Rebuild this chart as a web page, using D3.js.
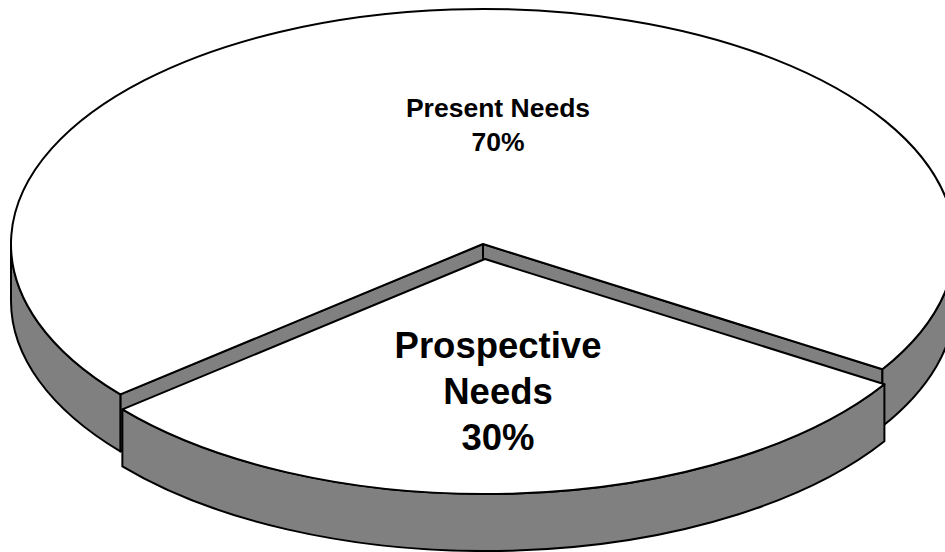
<!DOCTYPE html>
<html>
<head>
<meta charset="utf-8">
<script src="https://cdn.jsdelivr.net/npm/d3@7"></script>
<style>
  html, body { margin: 0; padding: 0; background: #fff; }
  svg { display: block; }
  text { font-family: "Liberation Sans", Arial, sans-serif; font-weight: bold; fill: #000; }
</style>
</head>
<body>
<svg id="chart" width="945" height="552"></svg>
<script>
// Two-slice 3D pie: needs split
const categories = ["Present Needs", "Prospective Needs"];
const values = [70, 30];
const labelLines = [["Present Needs"], ["Prospective", "Needs"]];
const exploded = [false, true];

const W = 945, H = 552;
const cx = 483, cy = 244;      // centre of the top face
const rx = 472, ry = 235;      // top-face ellipse radii
const depth = 57;              // extrusion height
const explodeFrac = 0.064;     // pull-out of the exploded slice
const wallColor = "#808080";
const strokeW = 2;

const svg = d3.select("#chart");

const deg = Math.PI / 180;
const start = 230.2 * deg;     // first slice starts lower-left
const pie = d3.pie().sort(null).value(d => d.value)
  .startAngle(start).endAngle(start + 2 * Math.PI);

const data = categories.map((c, i) => ({ name: c, value: values[i], lines: labelLines[i], exploded: exploded[i] }));
const total = d3.sum(values);
const arcs = pie(data);

// d3 pie angles (0 at 12 o'clock) -> screen angle (0 at 3 o'clock, clockwise)
const toScreen = a => a - Math.PI / 2;

function pt(o, t, z) {
  return [o[0] + rx * Math.cos(t), o[1] + ry * Math.sin(t) + z];
}

function topPath(o, t0, t1) {
  const p0 = pt(o, t0, 0), p1 = pt(o, t1, 0);
  const large = (t1 - t0) > Math.PI ? 1 : 0;
  const p = d3.path();
  p.moveTo(o[0], o[1]);
  p.lineTo(p0[0], p0[1]);
  return p.toString() + `A${rx},${ry} 0 ${large} 1 ${p1[0]},${p1[1]}Z`;
}

function wallPath(o, t0, t1) {
  const a = pt(o, t0, 0), b = pt(o, t1, 0), c = pt(o, t1, depth), d = pt(o, t0, depth);
  const large = (t1 - t0) > Math.PI ? 1 : 0;
  return `M${a[0]},${a[1]}A${rx},${ry} 0 ${large} 1 ${b[0]},${b[1]}` +
         `L${c[0]},${c[1]}A${rx},${ry} 0 ${large} 0 ${d[0]},${d[1]}Z`;
}

function radialPath(o, t) {
  const e = pt(o, t, 0), f = pt(o, t, depth);
  const p = d3.path();
  p.moveTo(o[0], o[1]);
  p.lineTo(e[0], e[1]);
  p.lineTo(f[0], f[1]);
  p.lineTo(o[0], o[1] + depth);
  p.closePath();
  return p.toString();
}

// front-facing portions of an angle range (screen angles in [0, PI] mod 2PI)
function frontRanges(t0, t1) {
  const out = [];
  for (let k = -1; k <= 2; k++) {
    const lo = Math.max(t0, k * 2 * Math.PI), hi = Math.min(t1, k * 2 * Math.PI + Math.PI);
    if (hi > lo + 1e-6) out.push([lo, hi]);
  }
  return out;
}

const slices = arcs.map(a => {
  const t0 = toScreen(a.startAngle), t1 = toScreen(a.endAngle);
  const mid = (t0 + t1) / 2;
  const o = a.data.exploded
    ? [cx + rx * Math.cos(mid) * explodeFrac, cy + ry * Math.sin(mid) * explodeFrac]
    : [cx, cy];
  return { arc: a, t0, t1, mid, o };
});

// back slice first, exploded front slice last
const order = slices.slice().sort((a, b) => (a.arc.data.exploded ? 1 : 0) - (b.arc.data.exploded ? 1 : 0));

const g = svg.append("g")
  .attr("stroke", "#000")
  .attr("stroke-width", strokeW)
  .attr("stroke-linejoin", "round");

order.forEach(s => {
  const sg = g.append("g");
  if (!s.arc.data.exploded) {
    // cut faces exposed toward the pulled-out slice
    [s.t0, s.t1].forEach(t => {
      sg.append("path").attr("d", radialPath(s.o, t)).attr("fill", wallColor);
    });
  }
  frontRanges(s.t0, s.t1).forEach(([lo, hi]) => {
    sg.append("path").attr("d", wallPath(s.o, lo, hi)).attr("fill", wallColor);
  });
  sg.append("path").attr("d", topPath(s.o, s.t0, s.t1)).attr("fill", "#fff");
});

// labels
const labelSpec = {
  "Present Needs": { x: 498, y: 117, size: 26.5, lh: 34 },
  "Prospective Needs": { x: 498, y: 358, size: 36.5, lh: 46 }
};
slices.forEach(s => {
  const spec = labelSpec[s.arc.data.name];
  const pct = Math.round(s.arc.data.value / total * 100) + "%";
  const lines = s.arc.data.lines.concat([pct]);
  const t = svg.append("text")
    .attr("text-anchor", "middle")
    .attr("font-size", spec.size)
    .attr("x", spec.x).attr("y", spec.y);
  lines.forEach((l, i) => {
    t.append("tspan").attr("x", spec.x).attr("y", spec.y + i * spec.lh).text(l);
  });
});
</script>
</body>
</html>
